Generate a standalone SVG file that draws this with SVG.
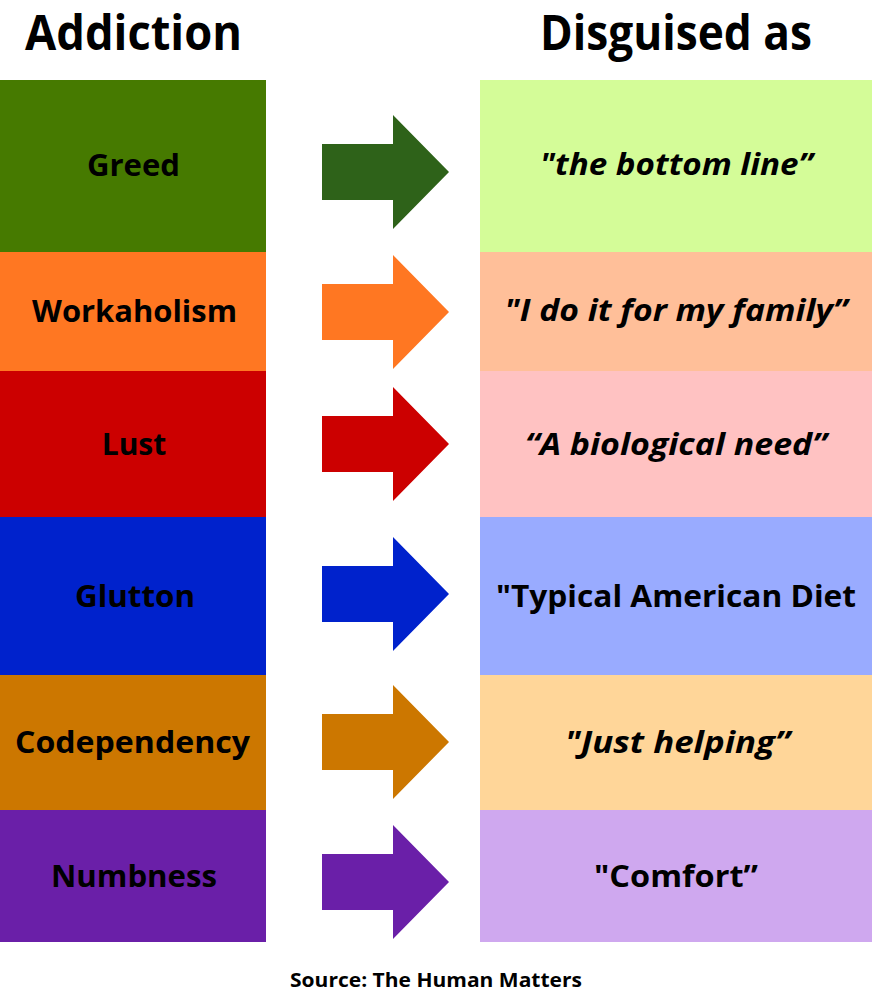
<svg xmlns="http://www.w3.org/2000/svg" xmlns:xlink="http://www.w3.org/1999/xlink" width="874" height="996" viewBox="0 0 874 996">
<style>
  .hdr { font-family: "Open Sans", "Liberation Sans", sans-serif; font-weight: 700; font-size: 48px; fill: #000; }
  .lbl { font-family: "Open Sans", "Liberation Sans", sans-serif; font-weight: 700; font-size: 30px; fill: #000; text-anchor: middle; }
  .quote { font-family: "Open Sans", "Liberation Sans", sans-serif; font-weight: 700; font-style: italic; font-size: 30px; fill: #000; text-anchor: middle; }
  .plain { font-family: "Open Sans", "Liberation Sans", sans-serif; font-weight: 700; font-size: 30px; fill: #000; text-anchor: middle; }
  .src { font-family: "Open Sans", "Liberation Sans", sans-serif; font-weight: 700; font-size: 19px; fill: #000; }
</style>
<defs>
  <path id="arrow" d="M322,-28 H393 V-57 L449,0 L393,57 V28 H322 Z"/>
</defs>
<rect width="874" height="996" fill="#ffffff"/>

<g id="headers">
  <text class="hdr" x="25" y="50" textLength="217" lengthAdjust="spacingAndGlyphs">Addiction</text>
  <text class="hdr" x="540" y="50" textLength="272" lengthAdjust="spacingAndGlyphs">Disguised as</text>
</g>

<g id="greed">
  <rect x="0" y="80" width="266" height="172" fill="#467A00"/>
  <text class="lbl" x="133.5" y="176" textLength="93" lengthAdjust="spacingAndGlyphs">Greed</text>
</g>
<g id="bottom-line">
  <rect x="480" y="80" width="392" height="172" fill="#D4FC98"/>
  <text class="quote" x="676.5" y="175" textLength="273" lengthAdjust="spacingAndGlyphs">"the bottom line”</text>
</g>

<g id="workaholism">
  <rect x="0" y="252" width="266" height="119" fill="#FF7722"/>
  <text class="lbl" x="134.5" y="322" textLength="205" lengthAdjust="spacingAndGlyphs">Workaholism</text>
</g>
<g id="family">
  <rect x="480" y="252" width="392" height="119" fill="#FFBF99"/>
  <text class="quote" x="676" y="321" textLength="343" lengthAdjust="spacingAndGlyphs">"I do it for my family”</text>
</g>

<g id="lust">
  <rect x="0" y="371" width="266" height="146" fill="#CC0000"/>
  <text class="lbl" x="134" y="455">Lust</text>
</g>
<g id="biological">
  <rect x="480" y="371" width="392" height="146" fill="#FFC2C2"/>
  <text class="quote" x="676" y="455" textLength="302" lengthAdjust="spacingAndGlyphs">“A biological need”</text>
</g>

<g id="glutton">
  <rect x="0" y="517" width="266" height="158" fill="#0022CC"/>
  <text class="lbl" x="135" y="607" textLength="120" lengthAdjust="spacingAndGlyphs">Glutton</text>
</g>
<g id="diet">
  <rect x="480" y="517" width="392" height="158" fill="#99ABFF"/>
  <text class="plain" x="676" y="607" textLength="360" lengthAdjust="spacingAndGlyphs">"Typical American Diet</text>
</g>

<g id="codependency">
  <rect x="0" y="675" width="266" height="135" fill="#CC7700"/>
  <text class="lbl" x="132.5" y="752.5" textLength="235" lengthAdjust="spacingAndGlyphs">Codependency</text>
</g>
<g id="helping">
  <rect x="480" y="675" width="392" height="135" fill="#FFD699"/>
  <text class="quote" x="677.5" y="752.5" textLength="225" lengthAdjust="spacingAndGlyphs">"Just helping”</text>
</g>

<g id="numbness">
  <rect x="0" y="810" width="266" height="132" fill="#6A1FA8"/>
  <text class="lbl" x="134" y="887" textLength="166" lengthAdjust="spacingAndGlyphs">Numbness</text>
</g>
<g id="comfort">
  <rect x="480" y="810" width="392" height="132" fill="#CFA8EF"/>
  <text class="plain" x="676" y="887" textLength="164" lengthAdjust="spacingAndGlyphs">"Comfort”</text>
</g>

<g id="connectors">
  <use xlink:href="#arrow" transform="translate(0,172)" fill="#2E6219"/>
  <use xlink:href="#arrow" transform="translate(0,312)" fill="#FF7722"/>
  <use xlink:href="#arrow" transform="translate(0,444)" fill="#CC0000"/>
  <use xlink:href="#arrow" transform="translate(0,594)" fill="#0022CC"/>
  <use xlink:href="#arrow" transform="translate(0,742)" fill="#CC7700"/>
  <use xlink:href="#arrow" transform="translate(0,882)" fill="#6A1FA8"/>
</g>

<g id="source">
  <text class="src" x="290" y="986.5" textLength="292" lengthAdjust="spacingAndGlyphs">Source: The Human Matters</text>
</g>
</svg>
